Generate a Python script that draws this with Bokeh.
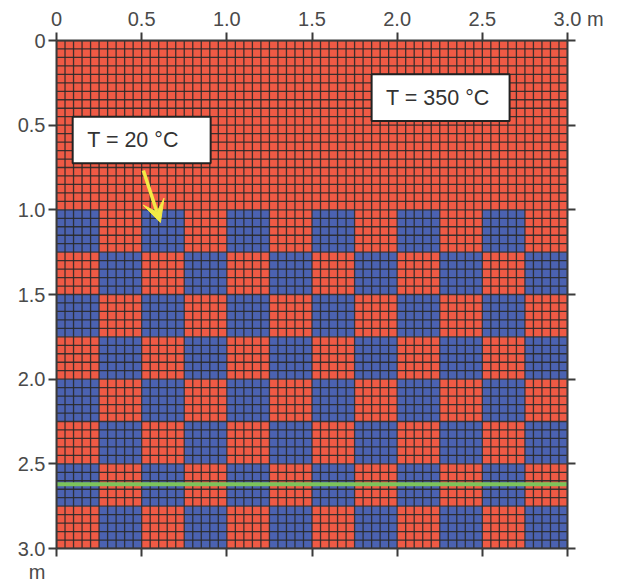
import numpy as np
from bokeh.plotting import figure
from bokeh.models import Range1d, LinearAxis, FixedTicker, Arrow, VeeHead
from bokeh.core.properties import value
from bokeh.embed import file_html
from bokeh.resources import INLINE

# ---- data ----
domain = 3.0            # m
layer_top = 1.0         # m, depth where checkerboard starts
block = 0.25            # m, checker block size
cell = 0.05             # m, mesh cell size
# checker pattern rows from 1.0 m downward: B = blue (20 °C), R = red (350 °C)
pattern = [
    "BRBRBRBRBRBR",
    "RBRBRBRBRBRB",
    "BRBRBRBRBRBR",
    "RBRBRBRBRBRB",
    "BRBRBRBRBRBR",
    "RBRBRBRBRBRB",
    "BRBRBRBRBRBR",
    "RBRBRBRBRBRB",
]
green_depth = 2.62
ticks = [0, 0.5, 1.0, 1.5, 2.0, 2.5, 3.0]
tick_labels = ["0", "0.5", "1.0", "1.5", "2.0", "2.5", "3.0"]
label_hot = "T = 350 °C"
label_cold = "T = 20 °C"
unit = "m"

RED = "#EF5A45"
BLUE = "#4B62B1"
FONT = "Liberation Sans"
GRAY = "#3a3a3a"
TXT = "#4a4a4a"
FS = "20px"
NB = "\u00a0"

p = figure(width=624, height=586, output_backend="svg", toolbar_location=None,
           x_range=Range1d(0, domain), y_range=Range1d(domain, 0),
           x_axis_location="above", min_border_left=56, min_border_right=57,
           min_border_top=40, min_border_bottom=38)
p.outline_line_color = None
p.grid.visible = False
p.background_fill_color = "white"

# background hot layer
p.quad(left=[0], right=[domain], top=[0], bottom=[layer_top], fill_color=RED, line_color=None)
# checkerboard
L, R, T, B, C = [], [], [], [], []
for i, row in enumerate(pattern):
    for j, ch in enumerate(row):
        L.append(j * block); R.append((j + 1) * block)
        T.append(layer_top + i * block); B.append(layer_top + (i + 1) * block)
        C.append(BLUE if ch == "B" else RED)
p.quad(left=L, right=R, top=T, bottom=B, fill_color=C, line_color=None)

# mesh lines
pos = np.arange(0, domain + cell / 2, cell)
xs = [[v, v] for v in pos] + [[0, domain] for v in pos]
ys = [[0, domain] for v in pos] + [[v, v] for v in pos]
p.multi_line(xs=xs, ys=ys, line_color="#2a2a2a", line_width=1.3, line_alpha=0.9)

# green line
p.line(x=[0, domain], y=[green_depth, green_depth], line_color="#7CC35A", line_width=4)

# label boxes
p.quad(left=[1.85, 0.095], right=[2.66, 0.905], top=[0.2, 0.45], bottom=[0.475, 0.725],
       fill_color="white", line_color="#222222", line_width=2)
p.text(x=[1.935, 0.18], y=[0.3375, 0.5875], text=[label_hot, label_cold],
       text_font=value(FONT), text_font_size="21.5px", text_color="#333333",
       text_baseline="middle", text_align="left")

# arrow
p.add_layout(Arrow(x_start=0.51, y_start=0.768, x_end=0.61, y_end=1.075,
                   line_color="#F3EA45", line_width=3.5,
                   end=VeeHead(size=22, fill_color="#F3EA45", line_color="#F3EA45")))

overrides = {t: l for t, l in zip(ticks, tick_labels)}

def style(ax, labels):
    ax.ticker = FixedTicker(ticks=ticks)
    ax.major_label_overrides = labels
    ax.axis_line_color = GRAY
    ax.axis_line_width = 2
    ax.major_tick_line_color = GRAY
    ax.major_tick_line_width = 2
    ax.major_tick_out = 8
    ax.major_tick_in = 0
    ax.minor_tick_line_color = None
    ax.major_label_text_font = FONT
    ax.major_label_text_font_size = FS
    ax.major_label_text_color = TXT
    ax.major_label_standoff = 3

# top axis: unit appended after the last tick, padded so the number stays centred
top_labels = dict(overrides)
top_labels[3.0] = NB * 4 + tick_labels[-1] + NB + unit
style(p.xaxis[0], top_labels)
style(p.yaxis[0], overrides)

rax = LinearAxis()
style(rax, {t: "" for t in ticks})
p.add_layout(rax, "right")

# bottom axis: only the unit, placed below-left of the origin
bax = LinearAxis()
bottom_labels = {t: "" for t in ticks}
bottom_labels[0] = unit + NB * 7
style(bax, bottom_labels)
bax.major_label_standoff = 4
p.add_layout(bax, "below")

open("out.html", "w").write(file_html(p, INLINE))
